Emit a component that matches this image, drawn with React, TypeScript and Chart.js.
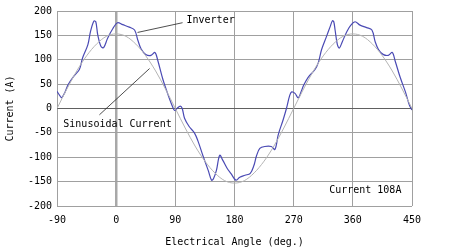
import React, { useEffect, useRef } from "react";
import { Chart, registerables } from "chart.js";

Chart.register(...registerables);

// Electrical angle (deg.) and inverter current (A)
const inverterAngle = [
  -90, -86, -83, -78, -73, -64, -56, -51, -43, -39, -34, -31, -28, -23, -19, -13, -5, 2, 10, 20,
  28, 33, 38, 45, 53, 59, 63, 71, 79, 86, 89, 92.5, 97.5, 100.5, 104, 111, 119, 124.5, 132, 140,
  145, 148, 152.5, 157.5, 162.5, 168.5, 175, 182, 188, 196, 204, 209.5, 213.5, 218.5, 226, 236,
  241.5, 246.5, 254, 259, 264, 267, 272, 277, 282, 285, 292, 302.5, 307.5, 312.5, 320, 325.5,
  329, 331, 333, 336.5, 339.5, 344, 351, 357, 363.5, 371, 381, 389, 394, 399, 406, 414, 420,
  424.5, 432, 440, 446, 450,
];
const inverterCurrent = [
  35, 27, 22, 33, 49, 67, 80, 104, 131, 158, 179, 178, 151, 127, 125, 144, 164, 176, 172, 167,
  161, 140, 122, 111, 109, 115, 100, 60, 28, 3, -4, 0, 5, 0, -20, -37, -50, -67, -97, -127,
  -147, -144, -127, -96, -107, -122, -134, -147, -141, -137, -133, -117, -97, -82, -78, -78,
  -84, -54, -23, 0, 27, 34, 31, 22, 37, 47, 64, 80, 94, 121, 148, 168,
  180, 178, 161, 131, 124, 137, 158, 171, 178, 171, 166, 161, 137, 121, 111, 109, 115,
  97, 64, 34, 7, -3,
];

// Sinusoidal current (A)
const sineAngle = [
  -90, -75, -60, -45, -30, -15, 0, 15, 30, 45, 60, 75, 90, 105, 120, 135, 150, 165, 180, 195,
  210, 225, 240, 255, 270, 285, 300, 315, 330, 345, 360, 375, 390, 405, 420, 435, 450,
];
const sineCurrent = [
  0, 40, 77, 108, 132, 148, 153, 148, 132, 108, 77, 40, 0, -40, -77, -108, -132, -148, -153, -148,
  -132, -108, -77, -40, 0, 40, 77, 108, 132, 148, 153, 148, 132, 108, 77, 40, 0,
];

const xTicks = [-90, 0, 90, 180, 270, 360, 450];
const yTicks = [-200, -150, -100, -50, 0, 50, 100, 150, 200];

const xTitle = "Electrical Angle (deg.)";
const yTitle = "Current (A)";

// Annotation labels (data coordinates)
const labelInverter = { text: "Inverter", x: 107, y: 180, from: [32.5, 156], to: [101, 176] };
const labelSine = { text: "Sinusoidal Current", x: -80.4, y: -33, from: [-25.5, -13], to: [50.8, 82] };
const labelCurrent = { text: "Current 108A", x: 324, y: -168 };

const FONT = "'DejaVu Sans Mono', monospace";

export default function App() {
  const ref = useRef<HTMLCanvasElement>(null);

  useEffect(() => {
    const canvas = ref.current;
    if (!canvas) return;

    const annotate = {
      id: "annotate",
      afterDatasetsDraw(chart: any) {
        const ctx = chart.ctx;
        const xs = chart.scales.x;
        const ys = chart.scales.y;
        const px = (v: number) => xs.getPixelForValue(v);
        const py = (v: number) => ys.getPixelForValue(v);
        ctx.save();
        ctx.strokeStyle = "#222";
        ctx.lineWidth = 0.8;
        for (const l of [labelInverter, labelSine]) {
          ctx.beginPath();
          ctx.moveTo(px(l.from[0]), py(l.from[1]));
          ctx.lineTo(px(l.to[0]), py(l.to[1]));
          ctx.stroke();
        }
        ctx.fillStyle = "#000";
        ctx.font = `10px ${FONT}`;
        ctx.textAlign = "left";
        ctx.textBaseline = "middle";
        for (const l of [labelInverter, labelSine, labelCurrent]) {
          ctx.fillText(l.text, px(l.x), py(l.y));
        }
        ctx.restore();
      },
    };

    const chart = new Chart(canvas, {
      type: "line",
      data: {
        datasets: [
          {
            label: "Sinusoidal Current",
            data: sineAngle.map((a, i) => ({ x: a, y: sineCurrent[i] })),
            borderColor: "#b4b4b4",
            borderWidth: 1,
            pointRadius: 0,
            cubicInterpolationMode: "monotone",
            fill: false,
          },
          {
            label: "Inverter",
            data: inverterAngle.map((a, i) => ({ x: a, y: inverterCurrent[i] })),
            borderColor: "#4a4ab4",
            borderWidth: 1.2,
            pointRadius: 0,
            tension: 0.35,
            fill: false,
          },
        ],
      },
      options: {
        animation: false,
        responsive: false,
        maintainAspectRatio: false,
        layout: { padding: { top: 7, right: 58, left: 0, bottom: 0 } },
        plugins: { legend: { display: false }, tooltip: { enabled: false } },
        scales: {
          x: {
            type: "linear",
            min: -90,
            max: 450,
            afterBuildTicks: (s: any) => {
              s.ticks = xTicks.map((v) => ({ value: v }));
            },
            afterFit: (s: any) => {
              s.height = 43;
            },
            grid: {
              drawTicks: false,
              color: (c: any) => (c.tick && c.tick.value === 0 ? "#a8a8a8" : "#a0a0a0"),
              lineWidth: (c: any) => (c.tick && c.tick.value === 0 ? 2.5 : 1),
            },
            border: { display: false },
            ticks: {
              padding: 8,
              color: "#000",
              font: { family: FONT, size: 10 },
              maxRotation: 0,
              autoSkip: false,
            },
            title: {
              display: true,
              text: xTitle,
              color: "#000",
              font: { family: FONT, size: 10 },
              padding: { top: 4, bottom: 1 },
            },
          },
          y: {
            type: "linear",
            min: -200,
            max: 200,
            afterBuildTicks: (s: any) => {
              s.ticks = yTicks.map((v) => ({ value: v }));
            },
            afterFit: (s: any) => {
              s.width = 57;
            },
            grid: {
              drawTicks: false,
              color: (c: any) => (c.tick && c.tick.value === 0 ? "#606060" : "#a0a0a0"),
              lineWidth: 1,
            },
            border: { display: false },
            ticks: {
              padding: 5,
              color: "#000",
              font: { family: FONT, size: 10 },
              autoSkip: false,
            },
            title: {
              display: true,
              text: yTitle,
              color: "#000",
              font: { family: FONT, size: 10 },
              padding: { top: 4, bottom: 4 },
            },
          },
        },
      },
      plugins: [annotate],
    });

    return () => chart.destroy();
  }, []);

  return (
    <div style={{ position: "absolute", left: 0, top: 0, width: 470, height: 249, background: "#fff" }}>
      <canvas ref={ref} width={470} height={249} style={{ width: 470, height: 249 }} />
    </div>
  );
}
